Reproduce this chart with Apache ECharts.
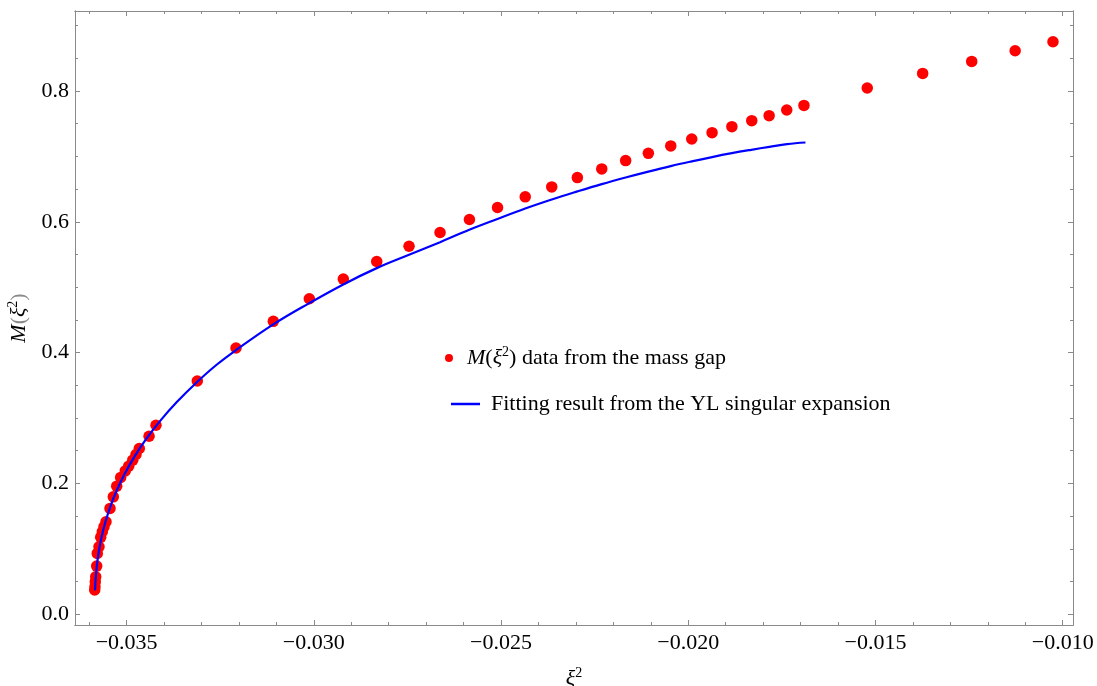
<!DOCTYPE html>
<html>
<head>
<meta charset="utf-8">
<script src="https://cdn.jsdelivr.net/npm/echarts@6/dist/echarts.min.js"></script>
<style>html,body{margin:0;padding:0;background:#fff}#c{width:1097px;height:686px}</style>
</head>
<body>
<div id="c"></div>
<script>
// Mass-gap data points
const dataX = [-0.035852, -0.035844, -0.035836, -0.035825, -0.035799, -0.035783, -0.035737, -0.035692, -0.035649, -0.035604,
  -0.03555, -0.035443, -0.035355, -0.035264, -0.035158, -0.035035, -0.034944, -0.034837, -0.034749, -0.034661,
  -0.0344, -0.034215, -0.033112, -0.032078, -0.031082, -0.03012, -0.029212, -0.02832, -0.027457, -0.026629,
  -0.025844, -0.025094, -0.024354, -0.023646, -0.022962, -0.02231, -0.021672, -0.021066, -0.020467, -0.019907,
  -0.019364, -0.018835, -0.018304, -0.01784, -0.01737, -0.01691, -0.01522, -0.01374, -0.01243, -0.01127, -0.01026];
const dataY = [0.0371, 0.0421, 0.0498, 0.0574, 0.0737, 0.0931, 0.1032, 0.1176, 0.1261, 0.1337,
  0.1414, 0.1618, 0.1795, 0.1959, 0.2092, 0.2192, 0.2264, 0.2356, 0.2443, 0.2534,
  0.2722, 0.289, 0.3566, 0.407, 0.4478, 0.4824, 0.5124, 0.5394, 0.5627, 0.5837,
  0.6035, 0.6218, 0.6382, 0.6534, 0.6676, 0.6809, 0.6936, 0.7047, 0.716, 0.7267,
  0.7363, 0.7455, 0.7547, 0.7623, 0.771, 0.778, 0.8046, 0.8269, 0.8452, 0.8615, 0.8753];

// Fitted curve
const fitX = [-0.035844, -0.035828, -0.035801, -0.035748, -0.035668, -0.035561, -0.035427, -0.035267, -0.035053, -0.034786,
  -0.034466, -0.034092, -0.033665, -0.033131, -0.032596, -0.032062,
  -0.031082, -0.03012, -0.029212, -0.02832, -0.027457, -0.026629, -0.025847, -0.025115,
  -0.024354, -0.023646, -0.022962, -0.02231, -0.021672, -0.021066, -0.020467, -0.019907, -0.019364, -0.018835,
  -0.018318, -0.017831, -0.017361, -0.01687];
const fitY = [0.0365, 0.0532, 0.0707, 0.0939, 0.1182, 0.1422, 0.1659, 0.1889, 0.2145, 0.2414,
  0.2688, 0.2965, 0.3241, 0.3544, 0.3815, 0.4045,
  0.4432, 0.4757, 0.5043, 0.5292, 0.5496, 0.5689, 0.5878, 0.604,
  0.6204, 0.6342, 0.6465, 0.6577, 0.6678, 0.6768, 0.6852, 0.6924, 0.699, 0.7049,
  0.7101, 0.7147, 0.7189, 0.7213];

// Ticks
const xMajorTicks = [-0.035, -0.030, -0.025, -0.020, -0.015, -0.010];
const xMinorTicks = [-0.036, -0.034, -0.033, -0.032, -0.031, -0.029, -0.028, -0.027, -0.026, -0.024, -0.023, -0.022, -0.021,
  -0.019, -0.018, -0.017, -0.016, -0.014, -0.013, -0.012, -0.011];
const yMajorTicks = [0.0, 0.2, 0.4, 0.6, 0.8];
const yMinorTicks = [0.05, 0.1, 0.15, 0.25, 0.3, 0.35, 0.45, 0.5, 0.55, 0.65, 0.7, 0.75, 0.85, 0.9];

const seriesNames = ['M(ξ²) data from the mass gap', 'Fitting result from the YL singular expansion'];

const FONT = 'Liberation Serif';
const FRAME = '#8a8a8a';
const X_MIN = -0.036378, X_MAX = -0.009725, Y_MIN = -0.0164, Y_MAX = 0.9223;

const richStyles = {
  i: { fontStyle: 'italic', fontFamily: FONT, fontSize: 22, color: '#000', lineHeight: 26 },
  t: { fontFamily: FONT, fontSize: 22, color: '#000', lineHeight: 26 },
  sup: { fontFamily: FONT, fontSize: 14, color: '#000', verticalAlign: 'top', lineHeight: 14 }
};

function xAxisDef(pos, ticks, len, labels) {
  return {
    type: 'value', position: pos, min: X_MIN, max: X_MAX, gridIndex: 0,
    splitLine: { show: false },
    axisLine: { show: true, onZero: false, lineStyle: { color: FRAME, width: 1 } },
    axisTick: { show: true, inside: true, length: len, customValues: ticks, lineStyle: { color: FRAME, width: 1 } },
    axisLabel: labels ? {
      show: true, customValues: ticks, margin: 7, fontFamily: FONT, fontSize: 22, color: '#000',
      formatter: v => (v < 0 ? '\u2212' : '') + Math.abs(v).toFixed(3)
    } : { show: false }
  };
}
function yAxisDef(pos, ticks, len, labels) {
  return {
    type: 'value', position: pos, min: Y_MIN, max: Y_MAX, gridIndex: 0,
    splitLine: { show: false },
    axisLine: { show: true, onZero: false, lineStyle: { color: FRAME, width: 1 } },
    axisTick: { show: true, inside: true, length: len, customValues: ticks, lineStyle: { color: FRAME, width: 1 } },
    axisLabel: labels ? {
      show: true, customValues: ticks, margin: 6, fontFamily: FONT, fontSize: 22, color: '#000',
      formatter: v => v.toFixed(1)
    } : { show: false }
  };
}

// order: major bottom, major top, minor (bottom->top), minor (top->bottom)
const xAxes = [
  xAxisDef('bottom', xMajorTicks, 5, true),
  xAxisDef('top', xMajorTicks, 5, false),
  xAxisDef('bottom', xMinorTicks, 3, false),
  xAxisDef('top', xMinorTicks, 3, false)
];
xAxes[0].name = '{i|ξ}{sup|2}';
xAxes[0].nameLocation = 'middle';
xAxes[0].nameGap = 41;
xAxes[0].nameTextStyle = { rich: richStyles, fontFamily: FONT, fontSize: 22 };

const yAxes = [
  yAxisDef('left', yMajorTicks, 5, true),
  yAxisDef('right', yMajorTicks, 5, false),
  yAxisDef('left', yMinorTicks, 3, false),
  yAxisDef('right', yMinorTicks, 3, false)
];
yAxes[0].name = '{i|M}({i|ξ}{sup|2})';
yAxes[0].nameLocation = 'middle';
yAxes[0].nameGap = 36;
yAxes[0].nameRotate = 90;
yAxes[0].nameTextStyle = { rich: richStyles, fontFamily: FONT, fontSize: 22 };

const chart = echarts.init(document.getElementById('c'), null, { renderer: 'canvas' });
chart.setOption({
  animation: false,
  backgroundColor: '#fff',
  grid: { left: 75, right: 24, top: 11, bottom: 61, containLabel: false, outerBoundsMode: 'none' },
  xAxis: xAxes,
  yAxis: yAxes,
  legend: [
    {
      data: [{ name: seriesNames[0], icon: 'circle' }],
      left: 445, top: 345, padding: 0,
      itemWidth: 26, itemHeight: 8,
      textStyle: { fontFamily: FONT, fontSize: 22, color: '#000', rich: richStyles },
      formatter: () => '{i|M}({i|ξ}{sup|2}){t| data from the mass gap}',
      selectedMode: false
    },
    {
      data: [{ name: seriesNames[1], icon: 'rect' }],
      left: 451, top: 391, padding: 0,
      itemWidth: 29, itemHeight: 2.5,
      textStyle: { fontFamily: FONT, fontSize: 22, color: '#000', lineHeight: 26, padding: [0, 0, 0, 6] },
      selectedMode: false
    }
  ],
  series: [
    {
      name: seriesNames[0], type: 'scatter', xAxisIndex: 0, yAxisIndex: 0,
      symbol: 'circle', symbolSize: 11.5,
      itemStyle: { color: '#ff0000', opacity: 1 },
      data: dataX.map((x, i) => [x, dataY[i]]),
      z: 2
    },
    {
      name: seriesNames[1], type: 'line', xAxisIndex: 0, yAxisIndex: 0,
      symbol: 'none', showSymbol: false, smooth: 0.4,
      lineStyle: { color: '#0000ff', width: 2.2 },
      itemStyle: { color: '#0000ff' },
      data: fitX.map((x, i) => [x, fitY[i]]),
      z: 3
    }
  ]
});
</script>
</body>
</html>
